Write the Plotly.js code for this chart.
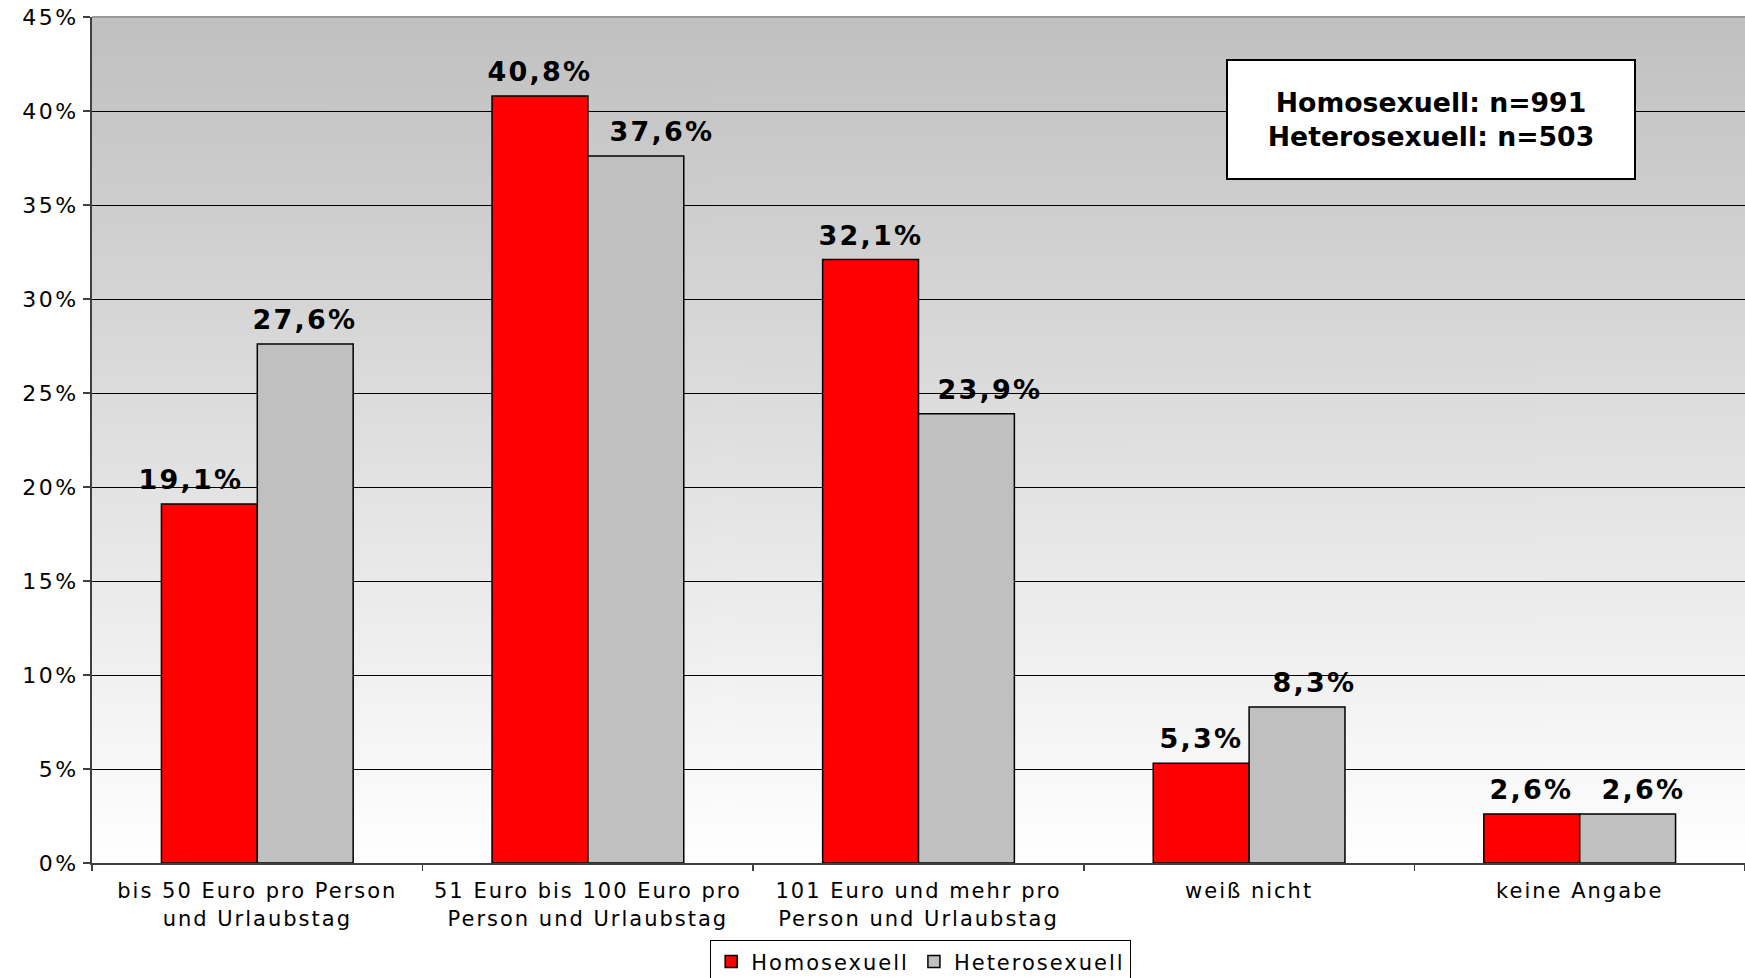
<!DOCTYPE html>
<html>
<head>
<meta charset="utf-8">
<script src="https://cdn.plot.ly/plotly-3.0.1.min.js"></script>
<style>
html,body{margin:0;padding:0;background:#fff;}
#chart{width:1745px;height:978px;}
.ytick text{letter-spacing:2.5px;}
.xtick text{letter-spacing:2px;}
.legendtext{letter-spacing:2px;}
.annotation:not([data-index="0"]) .annotation-text{letter-spacing:2.2px;}
</style>
</head>
<body>
<div id="chart"></div>
<script>
const categories = [
  "bis 50 Euro pro Person<br>und Urlaubstag",
  "51 Euro bis 100 Euro pro<br>Person und Urlaubstag",
  "101 Euro und mehr pro<br>Person und Urlaubstag",
  "weiß nicht",
  "keine Angabe"
];
const homoValues = [19.1, 40.8, 32.1, 5.3, 2.6];
const heteroValues = [27.6, 37.6, 23.9, 8.3, 2.6];
const homoLabels = ["19,1%", "40,8%", "32,1%", "5,3%", "2,6%"];
const heteroLabels = ["27,6%", "37,6%", "23,9%", "8,3%", "2,6%"];
const seriesNames = ["Homosexuell", "Heterosexuell"];
const yTickVals = [0, 5, 10, 15, 20, 25, 30, 35, 40, 45];
const yTickText = ["0%", "5%", "10%", "15%", "20%", "25%", "30%", "35%", "40%", "45%"];
const noteText = "Homosexuell: n=991<br>Heterosexuell: n=503";

// label placement style (pixel nudges, as moved in the original chart)
const homoLabelNudge = [-18, 0, 0, 0, 0];
const heteroLabelNudge = [0, 26, 23, 17, 16];

// gradient background image for plot area
const cv = document.createElement('canvas');
cv.width = 4; cv.height = 512;
const ctx = cv.getContext('2d');
const g = ctx.createLinearGradient(0, 0, 0, 512);
g.addColorStop(0, '#c0c0c0');
g.addColorStop(1, '#ffffff');
ctx.fillStyle = g;
ctx.fillRect(0, 0, 4, 512);
const bgUrl = cv.toDataURL('image/png');

const traces = [
  {
    type: 'bar', name: seriesNames[0], x: categories, y: homoValues,
    marker: {color: '#ff0000', line: {color: '#000', width: 1.5}},
    hoverinfo: 'skip'
  },
  {
    type: 'bar', name: seriesNames[1], x: categories, y: heteroValues,
    marker: {color: '#c0c0c0', line: {color: '#000', width: 1.5}},
    hoverinfo: 'skip'
  }
];

const labelFont = {family: "DejaVu Sans", size: 27, color: "#000", weight: 'bold'};
const annotations = [{
  text: noteText, xref: 'paper', yref: 'paper', x: 0.81, y: 0.8785,
  xanchor: 'center', yanchor: 'middle', showarrow: false,
  width: 406, height: 117, align: 'center', valign: 'middle',
  bgcolor: '#ffffff', bordercolor: '#000', borderwidth: 2, borderpad: 0,
  font: {family: "DejaVu Sans", size: 26.7, color: '#000', weight: 'bold'}
}];
categories.forEach(function (c, i) {
  annotations.push({
    text: homoLabels[i], x: c, y: homoValues[i], xref: 'x', yref: 'y',
    xshift: -48 + homoLabelNudge[i], yshift: 7, xanchor: 'center', yanchor: 'bottom',
    showarrow: false, font: labelFont
  });
  annotations.push({
    text: heteroLabels[i], x: c, y: heteroValues[i], xref: 'x', yref: 'y',
    xshift: 48 + heteroLabelNudge[i], yshift: 7, xanchor: 'center', yanchor: 'bottom',
    showarrow: false, font: labelFont
  });
});

const layout = {
  width: 1745, height: 978,
  margin: {l: 92, r: 0, t: 17, b: 115, pad: 0, autoexpand: false},
  paper_bgcolor: '#ffffff',
  plot_bgcolor: 'rgba(0,0,0,0)',
  font: {family: "DejaVu Sans", color: '#000', size: 21},
  barmode: 'group', bargap: 0.42, bargroupgap: 0,
  showlegend: true,
  legend: {
    orientation: 'h', x: 0.5013, xanchor: 'center', y: -0.0915, yanchor: 'top',
    bgcolor: '#fff', bordercolor: '#000', borderwidth: 1,
    font: {family: "DejaVu Sans", size: 21, color: '#000'},
    itemwidth: 30, tracegroupgap: 0
  },
  xaxis: {
    type: 'category', tickson: 'boundaries', ticks: 'outside', ticklen: 6,
    tickcolor: '#404040', tickwidth: 1.5, ticklabelstandoff: 8,
    showline: true, linecolor: '#404040', linewidth: 2,
    showgrid: false, zeroline: false,
    tickfont: {family: "DejaVu Sans", size: 21, color: '#000'}
  },
  yaxis: {
    range: [0, 45], tickvals: yTickVals, ticktext: yTickText,
    ticks: 'outside', ticklen: 7, tickcolor: '#404040', tickwidth: 1.5,
    showline: true, linecolor: '#404040', linewidth: 2,
    showgrid: true, gridcolor: '#000', gridwidth: 1, zeroline: false,
    tickfont: {family: "DejaVu Sans", size: 22, color: '#000'}
  },
  images: [{
    source: bgUrl, xref: 'paper', yref: 'paper', x: 0, y: 1,
    sizex: 1, sizey: 1, sizing: 'stretch', layer: 'below',
    xanchor: 'left', yanchor: 'top'
  }],
  shapes: [{
    type: 'line', xref: 'paper', yref: 'paper', x0: 0, x1: 1, y0: 1, y1: 1,
    line: {color: '#999999', width: 2}
  }],
  annotations: annotations
};

Plotly.newPlot('chart', traces, layout, {displayModeBar: false, staticPlot: true});
</script>
</body>
</html>
